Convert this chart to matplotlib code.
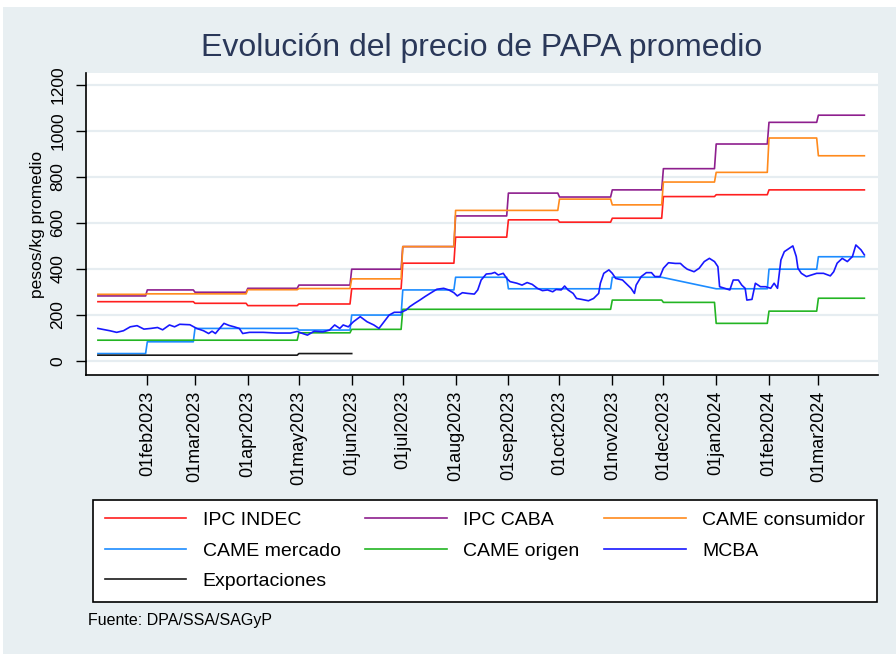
import numpy as np
import pandas as pd
import matplotlib
matplotlib.use('Agg')
import matplotlib.pyplot as plt
from matplotlib.patches import Rectangle

plt.rcParams['font.family'] = ['Liberation Sans', 'DejaVu Sans']

# monthly step series, Jan 2023 .. Mar 2024
months = pd.date_range('2023-01-01', '2024-03-01', freq='MS')
serie_start = pd.Timestamp('2023-01-03')
serie_end = pd.Timestamp('2024-03-28')

ipc_indec = [258, 258, 251, 241, 248, 314, 425, 538, 613, 603, 620, 714, 722, 743, 743]
ipc_caba = [283, 309, 299, 316, 330, 399, 497, 630, 729, 712, 743, 835, 942, 1036, 1067]
came_consumidor = [290, 292, 292, 310, 315, 357, 497, 654, 654, 703, 678, 777, 819, 968, 891]
came_mercado = [33, 84, 142, 142, 135, 200, 309, 364, 314, 314, 364, np.nan, 314, 399, 453]
came_origen = [91, 91, 91, 91, 123, 138, 225, 225, 225, 225, 265, 255, 164, 217, 273]
exportaciones = [26, 26, 26, 26, 33]
export_end = pd.Timestamp('2023-06-01')

# MCBA (daily wholesale market)
mcba_dates = [
    '2023-01-03', '2023-01-10', '2023-01-14', '2023-01-18', '2023-01-22', '2023-01-26', '2023-01-30',
    '2023-02-03', '2023-02-07', '2023-02-10', '2023-02-14', '2023-02-17', '2023-02-20', '2023-02-26',
    '2023-03-02', '2023-03-06', '2023-03-09', '2023-03-11', '2023-03-13', '2023-03-15', '2023-03-18',
    '2023-03-21', '2023-03-24', '2023-03-27', '2023-03-29', '2023-04-02', '2023-04-10', '2023-04-18',
    '2023-04-26', '2023-04-30', '2023-05-02', '2023-05-06', '2023-05-10', '2023-05-15', '2023-05-19',
    '2023-05-22', '2023-05-25', '2023-05-27', '2023-05-30', '2023-06-02', '2023-06-06', '2023-06-10',
    '2023-06-14', '2023-06-17', '2023-06-20', '2023-06-23', '2023-06-26', '2023-06-30', '2023-07-03',
    '2023-07-05', '2023-07-08', '2023-07-11', '2023-07-14', '2023-07-17', '2023-07-21', '2023-07-25',
    '2023-07-28', '2023-07-31', '2023-08-02', '2023-08-05', '2023-08-08', '2023-08-12', '2023-08-14',
    '2023-08-16', '2023-08-19', '2023-08-22', '2023-08-24', '2023-08-26', '2023-08-29', '2023-08-31',
    '2023-09-02', '2023-09-06', '2023-09-09', '2023-09-12', '2023-09-15', '2023-09-18', '2023-09-21',
    '2023-09-24', '2023-09-27', '2023-09-29', '2023-10-02', '2023-10-04', '2023-10-06', '2023-10-09',
    '2023-10-11', '2023-10-14', '2023-10-18', '2023-10-21', '2023-10-24', '2023-10-25', '2023-10-27',
    '2023-10-30', '2023-11-01', '2023-11-03', '2023-11-07', '2023-11-10', '2023-11-12', '2023-11-14',
    '2023-11-15', '2023-11-18', '2023-11-21', '2023-11-24', '2023-11-26', '2023-11-29', '2023-12-01',
    '2023-12-04', '2023-12-08', '2023-12-11', '2023-12-13', '2023-12-15', '2023-12-19', '2023-12-22',
    '2023-12-25', '2023-12-28', '2023-12-31', '2024-01-02', '2024-01-03', '2024-01-06', '2024-01-09',
    '2024-01-11', '2024-01-14', '2024-01-16', '2024-01-18', '2024-01-19', '2024-01-22', '2024-01-24',
    '2024-01-27', '2024-01-30', '2024-02-02', '2024-02-04', '2024-02-06', '2024-02-08', '2024-02-10',
    '2024-02-13', '2024-02-15', '2024-02-17', '2024-02-18', '2024-02-20', '2024-02-23', '2024-02-26',
    '2024-02-29', '2024-03-04', '2024-03-08', '2024-03-10', '2024-03-12', '2024-03-15', '2024-03-18',
    '2024-03-21', '2024-03-23', '2024-03-26', '2024-03-28']
mcba = [
    142, 132, 125, 132, 149, 154, 139,
    142, 146, 136, 157, 149, 160, 158,
    142, 132, 120, 130, 120, 138, 164,
    155, 149, 142, 120, 125, 125, 122,
    122, 129, 123, 113, 130, 127, 135,
    157, 142, 157, 149, 171, 193, 171,
    157, 142, 171, 200, 212, 212, 222,
    236, 251, 265, 280, 294, 312, 316,
    309, 297, 283, 297, 294, 291, 309,
    352, 378, 380, 385, 374, 381, 359,
    345, 338, 330, 341, 333, 316, 306,
    309, 301, 311, 309, 326, 309, 294,
    272, 268, 262, 272, 294, 338, 381,
    396, 381, 359, 352, 330, 316, 294,
    330, 367, 384, 384, 367, 367, 403,
    427, 424, 424, 410, 399, 388, 403,
    432, 446, 432, 410, 323, 316, 309,
    352, 352, 330, 316, 265, 268, 338,
    323, 323, 316, 338, 316, 439, 475,
    490, 500, 454, 403, 381, 367, 374,
    381, 381, 370, 388, 425, 446, 432,
    454, 504, 483, 461]

tick_dates = pd.date_range('2023-02-01', '2024-03-01', freq='MS')
y_ticks = [0, 200, 400, 600, 800, 1000, 1200]


def monthly_steps(vals, end):
    starts = list(months[:len(vals)])
    starts[0] = serie_start
    ends = list(months[1:len(vals)] - pd.Timedelta(days=1)) + [end]
    xs, ys = [], []
    for s, e, v in zip(starts, ends, vals):
        if np.isnan(v):
            continue
        xs += [s, e]
        ys += [v, v]
    return xs, ys


bg = '#e8eff2'
fig = plt.figure(figsize=(8.96, 6.54), dpi=100, facecolor='white')
fig.patches.append(Rectangle((3/896, 0), 1, 1 - 7/654, transform=fig.transFigure,
                             facecolor=bg, edgecolor='none', zorder=-10))

ax = fig.add_axes([86/896, 1 - 375/654, (878 - 86)/896, (375 - 73)/654])
ax.set_facecolor('white')

lw = 1.2
series = [
    ('IPC INDEC', ipc_indec, '#ff1f1f', serie_end),
    ('IPC CABA', ipc_caba, '#8e1f8e', serie_end),
    ('CAME consumidor', came_consumidor, '#ff8a1c', serie_end),
    ('CAME mercado', came_mercado, '#1c8cff', serie_end),
    ('CAME origen', came_origen, '#23b523', serie_end),
]
handles = {}
for name, vals, col, end in series:
    xs, ys = monthly_steps(vals, end)
    handles[name], = ax.plot(xs, ys, color=col, lw=lw, label=name)
handles['MCBA'], = ax.plot(pd.to_datetime(mcba_dates), mcba, color='#1818ff', lw=lw, label='MCBA')
xs, ys = monthly_steps(exportaciones, export_end)
handles['Exportaciones'], = ax.plot(xs, ys, color='#1a1a1a', lw=lw, label='Exportaciones')

ax.set_xlim(pd.Timestamp('2022-12-27'), pd.Timestamp('2024-04-05'))
ax.set_ylim(-60, 1250)
ax.set_yticks(y_ticks)
ax.set_yticklabels([str(v) for v in y_ticks], rotation=90, va='center', fontsize=12.5)
ax.set_xticks(tick_dates)
ax.set_xticklabels([d.strftime('%d%b%Y').lower() for d in tick_dates], rotation=90, fontsize=13)
ax.tick_params(axis='y', length=7, width=1, pad=8)
ax.tick_params(axis='x', length=7, width=1, pad=4)
ax.grid(axis='y', color='#e6edf1', lw=1.6)
ax.set_axisbelow(True)
for s in ['top', 'right']:
    ax.spines[s].set_visible(False)
for s in ['left', 'bottom']:
    ax.spines[s].set_linewidth(1.2)
ax.set_ylabel('pesos/kg promedio', fontsize=12.5, labelpad=4)

fig.text(482/896, 1 - 48/654, 'Evolución del precio de PAPA promedio', ha='center', va='center',
         fontsize=23, color='#2a3859')

# legend filled column-wise, so order the handles to read row by row
order = ['IPC INDEC', 'CAME mercado', 'Exportaciones', 'IPC CABA', 'CAME origen',
         'CAME consumidor', 'MCBA']
leg = fig.legend([handles[k] for k in order], order, ncol=3, loc='upper left',
                 bbox_to_anchor=(93/896, 1 - 500/654), borderaxespad=0, fontsize=14,
                 frameon=True, fancybox=False, edgecolor='black', framealpha=1,
                 handlelength=4.2, handletextpad=0.85, columnspacing=1.25,
                 labelspacing=0.66, borderpad=0.6)
leg.get_frame().set_linewidth(1.2)

fig.text(88/896, 1 - 621/654, 'Fuente: DPA/SSA/SAGyP', ha='left', va='center', fontsize=11.5)

fig.savefig('out.png', dpi=100, facecolor=fig.get_facecolor())
